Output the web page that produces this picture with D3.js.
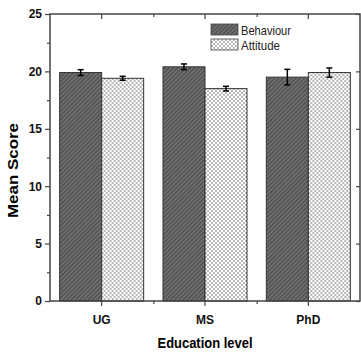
<!DOCTYPE html>
<html>
<head>
<meta charset="utf-8">
<script src="https://cdn.jsdelivr.net/npm/d3@7"></script>
<style>
  body { margin: 0; background: #fff; }
  text { font-family: "Liberation Sans", Arial, sans-serif; }
</style>
</head>
<body>
<div id="chart"></div>
<script>
// data
const categories = ['UG', 'MS', 'PhD']
const series = ['Behaviour', 'Attitude']
const behaviour = [19.9, 20.4, 19.5]
const behaviourErr = [0.25, 0.25, 0.68]
const attitude = [19.4, 18.5, 19.9]
const attitudeErr = [0.17, 0.2, 0.4]
const yMajor = [0, 5, 10, 15, 20, 25]
const yMinor = [2.5, 7.5, 12.5, 17.5, 22.5]

const margin = {top: 14, right: 1, bottom: 53, left: 50}
const width = 361 - margin.left - margin.right
const height = 354 - margin.top - margin.bottom
const frameW = 310
const axisColor = '#444'

const svg = d3.select('#chart')
  .append('svg')
  .attr('width', 361)
  .attr('height', 354)

// patterns
const defs = svg.append('defs')
const hatch = defs.append('pattern')
  .attr('id', 'hatch')
  .attr('patternUnits', 'userSpaceOnUse')
  .attr('width', 3).attr('height', 3)
  .attr('patternTransform', 'rotate(45)')
hatch.append('rect').attr('width', 3).attr('height', 3).attr('fill', '#747474')
hatch.append('rect').attr('width', 1.3).attr('height', 3).attr('fill', '#4a4a4a')

const checker = defs.append('pattern')
  .attr('id', 'checker')
  .attr('patternUnits', 'userSpaceOnUse')
  .attr('width', 4).attr('height', 4)
checker.append('rect').attr('width', 4).attr('height', 4).attr('fill', '#b8b8b8')
checker.append('rect').attr('width', 2).attr('height', 2).attr('fill', '#fff')
checker.append('rect').attr('x', 2).attr('y', 2).attr('width', 2).attr('height', 2).attr('fill', '#fff')

const fills = {Behaviour: 'url(#hatch)', Attitude: 'url(#checker)'}

const g = svg.append('g')
  .attr('transform', 'translate(' + margin.left + ',' + margin.top + ')')

const x = d3.scaleBand().domain(categories).range([0, width])
const xSub = d3.scaleBand().domain(series).range([-42, 42])
const y = d3.scaleLinear().domain([0, 25]).range([height, 0])

const rows = categories.map((c, i) => ({
  cat: c,
  vals: [
    {key: 'Behaviour', v: behaviour[i], e: behaviourErr[i]},
    {key: 'Attitude', v: attitude[i], e: attitudeErr[i]}
  ]
}))

// bars
const groups = g.append('g')
  .selectAll('g')
  .data(rows)
  .enter().append('g')
  .attr('transform', d => 'translate(' + (x(d.cat) + x.bandwidth() / 2) + ',0)')

groups.selectAll('rect')
  .data(d => d.vals)
  .enter().append('rect')
  .attr('x', d => xSub(d.key))
  .attr('width', xSub.bandwidth())
  .attr('y', d => y(d.v))
  .attr('height', d => height - y(d.v))
  .attr('fill', d => fills[d.key])
  .attr('stroke', '#333')
  .attr('stroke-width', 1)

// error bars
const err = groups.selectAll('g.err')
  .data(d => d.vals)
  .enter().append('g')
  .attr('class', 'err')
  .attr('stroke', '#000')
  .attr('stroke-width', 1.5)
err.append('line')
  .attr('x1', d => xSub(d.key) + xSub.bandwidth() / 2)
  .attr('x2', d => xSub(d.key) + xSub.bandwidth() / 2)
  .attr('y1', d => y(d.v + d.e))
  .attr('y2', d => y(d.v - d.e))
err.selectAll('line.cap')
  .data(d => [d.v + d.e, d.v - d.e].map(v => ({key: d.key, v})))
  .enter().append('line')
  .attr('class', 'cap')
  .attr('x1', d => xSub(d.key) + xSub.bandwidth() / 2 - 3)
  .attr('x2', d => xSub(d.key) + xSub.bandwidth() / 2 + 3)
  .attr('y1', d => y(d.v))
  .attr('y2', d => y(d.v))

// axes
const styleAxis = sel => {
  sel.select('.domain').remove()
  sel.selectAll('.tick line').attr('stroke', axisColor).attr('stroke-width', 1.2)
  sel.selectAll('.tick text')
    .attr('fill', '#111')
    .style('font-size', '12px')
    .style('font-weight', 'bold')
}

g.append('g')
  .call(d3.axisLeft(y).tickValues(yMajor).tickSize(5).tickPadding(3))
  .call(styleAxis)
g.append('g')
  .call(d3.axisLeft(y).tickValues(yMinor).tickSize(3).tickFormat(''))
  .call(styleAxis)
g.append('g')
  .attr('transform', 'translate(' + frameW + ',0)')
  .call(d3.axisLeft(y).tickValues(yMajor).tickSize(4).tickFormat(''))
  .call(styleAxis)

const xMinor = categories.slice(1).map(c => x(c))

g.append('g')
  .attr('transform', 'translate(0,' + height + ')')
  .call(d3.axisBottom(x).tickSize(5).tickPadding(9))
  .call(styleAxis)
g.append('g')
  .attr('transform', 'translate(0,' + height + ')')
  .call(d3.axisBottom(d3.scaleIdentity()).tickValues(xMinor).tickSize(3).tickFormat(''))
  .call(styleAxis)
g.append('g')
  .call(d3.axisBottom(x).tickSize(5).tickFormat(''))
  .call(styleAxis)
g.append('g')
  .call(d3.axisBottom(d3.scaleIdentity()).tickValues(xMinor).tickSize(3).tickFormat(''))
  .call(styleAxis)

// frame
g.append('rect')
  .attr('width', frameW)
  .attr('height', height)
  .attr('fill', 'none')
  .attr('stroke', axisColor)
  .attr('stroke-width', 1.5)

// axis titles
g.append('text')
  .attr('transform', 'translate(' + (-32) + ',' + (height / 2 + 13) + ') rotate(-90)')
  .attr('text-anchor', 'middle')
  .attr('fill', '#000')
  .style('font-size', '15px')
  .style('font-weight', 'bold')
  .attr('textLength', 95)
  .attr('lengthAdjust', 'spacingAndGlyphs')
  .text('Mean Score')

g.append('text')
  .attr('x', 155)
  .attr('y', height + 47)
  .attr('text-anchor', 'middle')
  .attr('fill', '#000')
  .style('font-size', '15px')
  .style('font-weight', 'bold')
  .attr('textLength', 95)
  .attr('lengthAdjust', 'spacingAndGlyphs')
  .text('Education level')

// legend
const legend = g.selectAll('.legend')
  .data(series)
  .enter().append('g')
  .attr('class', 'legend')
  .attr('transform', (d, i) => 'translate(161,' + (10 + i * 15) + ')')

legend.append('rect')
  .attr('width', 27)
  .attr('height', 11)
  .attr('fill', d => fills[d])
  .attr('stroke', '#444')
  .attr('stroke-width', 0.8)

legend.append('text')
  .attr('x', 30)
  .attr('y', 10.5)
  .attr('fill', '#222')
  .style('font-size', '13px')
  .attr('textLength', d => d === 'Behaviour' ? 50 : 39)
  .attr('lengthAdjust', 'spacingAndGlyphs')
  .text(d => d)
</script>
</body>
</html>
